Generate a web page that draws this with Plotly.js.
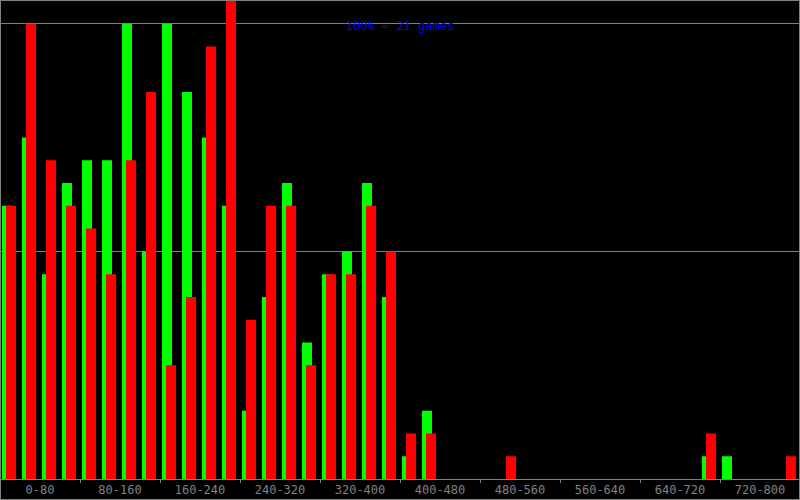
<!DOCTYPE html>
<html>
<head>
<meta charset="utf-8">
<script src="https://cdn.plot.ly/plotly-3.0.1.min.js"></script>
<style>
  html, body { margin: 0; padding: 0; background: #000; }
  #chart { width: 798px; height: 498px; border: 1px solid #808080; }
</style>
</head>
<body>
<div id="chart"></div>
<script>
// 40 bins of width 20 (0..800)
const binWidth = 20;
const greenCounts = [12,15,9,13,14,14,20,10,20,17,15,12,3,8,13,6,9,10,13,8,1,3,0,0,0,0,0,0,0,0,0,0,0,0,0,1,1,0,0,0];
const redCounts   = [12,20,14,12,11,9,14,17,5,8,19,21,7,12,12,5,9,9,12,10,2,2,0,0,0,1,0,0,0,0,0,0,0,0,0,2,0,0,0,1];
const rangeLabels = ["0-80","80-160","160-240","240-320","320-400","400-480","480-560","560-640","640-720","720-800"];
const labelCenters = [40,120,200,280,360,440,520,600,680,760];
const groupEdges = [80,160,240,320,400,480,560,640,720];
const titleText = "100% = 21 games";

const binStarts = greenCounts.map((_, i) => i * binWidth);

const traces = [
  { type: 'bar', x: binStarts, y: greenCounts, offset: 2, width: 10,
    marker: { color: '#00ff00', line: { width: 0 } }, hoverinfo: 'skip' },
  { type: 'bar', x: binStarts, y: redCounts, offset: 6, width: 10,
    marker: { color: '#ff0000', line: { width: 0 } }, hoverinfo: 'skip' }
];

const layout = {
  width: 798, height: 498,
  margin: { l: 0, r: 0, t: 0, b: 20, pad: 0 },
  paper_bgcolor: '#000', plot_bgcolor: '#000',
  barmode: 'overlay', showlegend: false,
  title: { text: titleText, x: 0.5, xanchor: 'center', y: 1 - 25/498, yanchor: 'middle', yref: 'container',
           font: { family: 'DejaVu Sans Mono', size: 12, color: '#0000ff' } },
  xaxis: {
    range: [1, 799], fixedrange: true,
    tickmode: 'array', tickvals: labelCenters, ticktext: rangeLabels,
    ticks: '', showgrid: false, zeroline: false,
    showline: true, linecolor: '#808080', linewidth: 1,
    tickfont: { family: 'DejaVu Sans Mono', size: 12, color: '#808080' },
    minor: { tickmode: 'array', tickvals: groupEdges, ticks: 'outside', ticklen: 3, tickcolor: '#808080', tickwidth: 1, showgrid: false }
  },
  yaxis: {
    range: [0, 21], fixedrange: true,
    tickmode: 'array', tickvals: [10, 20], showticklabels: false,
    showgrid: true, gridcolor: '#808080', gridwidth: 1, zeroline: false, showline: false
  }
};

Plotly.newPlot('chart', traces, layout, { displayModeBar: false, staticPlot: true });
</script>
</body>
</html>
